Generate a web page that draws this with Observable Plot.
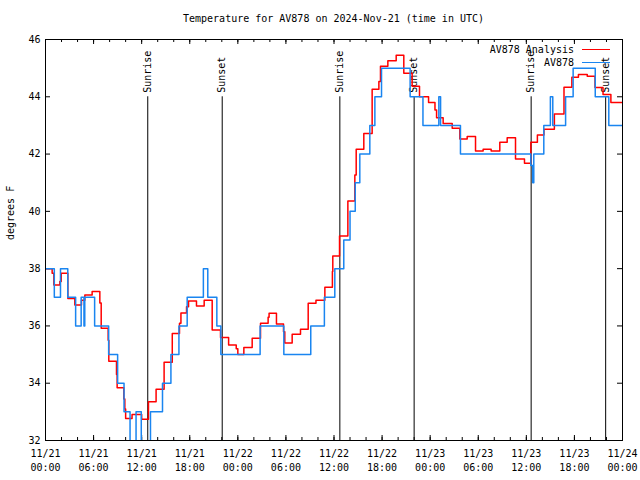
<!DOCTYPE html>
<html><head><meta charset="utf-8">
<script src="https://cdn.jsdelivr.net/npm/d3@7"></script>
<script src="https://cdn.jsdelivr.net/npm/@observablehq/plot@0.6"></script>
<style>
body{margin:0;background:#fff;font-family:"DejaVu Sans Mono",monospace;}
#wrap{position:relative;width:640px;height:480px;overflow:hidden;}
#title{height:38px;box-sizing:border-box;padding:13px 18px 0 45px;text-align:center;font-size:10px;line-height:12px;white-space:pre;color:#000;}
#legend{position:absolute;left:400px;top:43px;width:210px;font-size:10px;color:#000;}
.row{display:flex;justify-content:flex-end;align-items:center;height:13px;}
.sw{width:28px;height:0;margin-left:8px;}
</style></head><body>
<div id="wrap"><div id="title"></div><div id="chart"></div><div id="legend"></div></div>
<script>
const titleText = "Temperature for AV878 on 2024-Nov-21 (time in UTC)";
const yLabel = "degrees F";
const seriesNames = ["AV878 Analysis", "AV878"];
const seriesColors = ["#ff0000", "#1a85f0"];

// hours since 2024-11-21 00:00 UTC
const anaHours = [0,0.83,1.04,1.79,1.96,2.79,3.66,4.49,4.91,5.82,6.78,6.95,7.82,7.9,8.86,8.94,9.77,9.9,10.0,10.8,12.0,12.85,13.8,14.8,15.82,16.72,16.9,17.6,17.85,18.84,19.8,20.8,21.84,22.85,23.8,24.0,24.75,25.79,26.83,27.78,27.9,28.82,29.7,29.86,30.78,31.82,32.78,33.75,34.86,35.8,35.85,36.69,37.73,38.6,38.77,39.72,40.76,41.6,41.8,42.72,43.76,44.71,45.75,46.67,47.8,48.6,48.8,49.62,50.75,51.7,52.62,53.66,54.61,55.61,56.69,57.61,58.65,59.77,60.56,61.38,62.2,63.5,64.7,65.68,66.5,67.6,68.57,69.57,70.55,72];
const anaTemps = [38.0,37.84,37.43,37.55,37.84,36.96,36.73,36.9,37.08,37.2,36.8,35.92,35.5,34.77,34.3,33.84,33.45,33.1,32.77,32.91,32.74,33.35,33.79,34.73,35.74,36.09,36.45,36.67,36.87,36.7,36.9,35.86,35.6,35.33,35.2,35.0,35.25,35.57,36.09,36.3,36.44,36.07,35.8,35.4,35.71,35.88,36.79,36.9,37.35,37.9,38.44,39.14,40.36,41.27,42.17,42.72,44.26,44.53,45.07,45.26,45.45,44.82,44.37,44.0,43.8,43.54,43.27,43.07,42.9,42.53,42.61,42.11,42.17,42.11,42.41,42.57,41.83,41.68,42.41,42.67,42.87,43.4,44.33,44.68,44.78,44.72,44.32,44.08,43.8,43.8];

const obsHours = [0,1.1,1.87,2.78,3.76,4.45,4.8,4.9,6.13,7.88,9.0,9.8,10.55,11.3,11.95,13.1,14.6,15.65,16.65,17.68,19.7,20.25,21.38,21.88,26.78,29.74,33.1,34.8,36.1,37.22,38.0,38.65,39.22,40.47,41.1,41.93,45.5,47.1,49.08,49.3,51.78,60.56,60.8,60.93,62.18,63.0,63.3,64.9,65.84,68.6,70.29,72];
const obsTemps = [38,37,38,37,36,37,36,37,36,35,34,33,31,33,31,33,34,35,36,37,38,37,36,35,36,35,36,37,38,39,40,41,42,43,44,45,44,43,44,43,42,41.6,41,42,43,44,43,44,45,44,43,43];

const eventNames = ["Sunrise","Sunset","Sunrise","Sunset","Sunrise","Sunset"];
const eventHours = [12.76,22.05,36.73,46.0,60.6,69.9];

const yTicks = [32,34,36,38,40,42,44,46];

const startUTC = Date.UTC(2024,10,21);
const toDate = h => new Date(startUTC + h*3600e3);
const ana = anaHours.map((h,i)=>({t: toDate(h), v: anaTemps[i]}));
const obs = obsHours.map((h,i)=>({t: toDate(h), v: obsTemps[i]}));
const events = eventHours.map((h,i)=>({t: toDate(h), name: eventNames[i]}));

const W = 640, H = 442, mT = 1, mB = 40, mL = 45, mR = 18;
const innerH = H - mT - mB, innerW = W - mL - mR;
const x0 = toDate(0), x1 = toDate(72);
const minorTicks = d3.utcHour.every(2).range(x0, toDate(72.01));
const majorTicks = d3.utcHour.every(6).range(x0, toDate(72.01));

document.getElementById("title").textContent = titleText;

const plot = Plot.plot({
  width: W, height: H,
  marginTop: mT, marginBottom: mB, marginLeft: mL, marginRight: mR,
  style: {fontFamily: "DejaVu Sans Mono", fontSize: "10px", background: "white", color: "black", overflow: "visible"},
  x: {type: "utc", domain: [x0, x1], label: null},
  y: {domain: [32, 46], label: null},
  marks: [
    Plot.ruleX(minorTicks, {x: d => d, insetTop: innerH - 3, stroke: "black"}),
    Plot.ruleX(minorTicks, {x: d => d, insetBottom: innerH - 3, stroke: "black"}),
    Plot.ruleX(majorTicks, {x: d => d, insetTop: innerH - 5, stroke: "black"}),
    Plot.ruleX(majorTicks, {x: d => d, insetBottom: innerH - 5, stroke: "black"}),
    Plot.ruleY(yTicks, {y: d => d, insetRight: innerW - 5, stroke: "black"}),
    Plot.ruleY(yTicks, {y: d => d, insetLeft: innerW - 5, stroke: "black"}),
    Plot.axisX(majorTicks, {tickSize: 0, tickPadding: 7, tickFormat: d3.utcFormat("%m/%d\n%H:%M"), label: null, lineHeight: 1.35, fill: "black"}),
    Plot.axisY(yTicks, {tickSize: 0, tickPadding: 5, label: null, fill: "black"}),
    Plot.text([yLabel], {frameAnchor: "left", dx: -35, rotate: -90, fill: "black"}),
    Plot.ruleX(events, {x: "t", y1: 44, y2: 32, stroke: "black"}),
    Plot.text(events, {x: "t", y: 44, text: "name", rotate: -90, textAnchor: "start", dy: -4, fill: "black"}),
    Plot.line(ana, {x: "t", y: "v", curve: "step-after", stroke: seriesColors[0], strokeWidth: 1.5, clip: true}),
    Plot.line(obs, {x: "t", y: "v", curve: "step-after", stroke: seriesColors[1], strokeWidth: 1.5, clip: true}),
    Plot.frame({stroke: "black"})
  ]
});
document.getElementById("chart").appendChild(plot);

const legend = document.getElementById("legend");
seriesNames.forEach((n, i) => {
  const row = document.createElement("div");
  row.className = "row";
  const s = document.createElement("span");
  s.textContent = n;
  const sw = document.createElement("span");
  sw.className = "sw";
  sw.style.borderTop = "1.5px solid " + seriesColors[i];
  row.appendChild(s); row.appendChild(sw);
  legend.appendChild(row);
});
</script>
</body></html>
